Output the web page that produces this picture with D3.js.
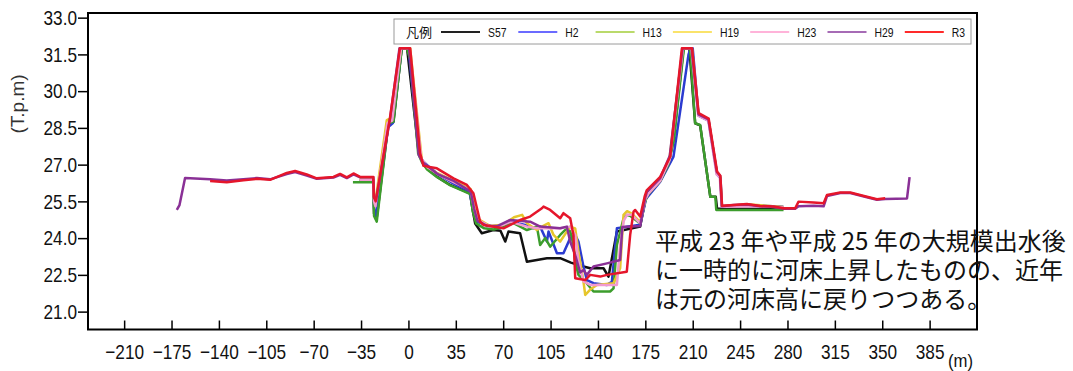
<!DOCTYPE html>
<html>
<head>
<meta charset="utf-8">
<script src="https://cdn.jsdelivr.net/npm/d3@7"></script>
<style>
  body { margin: 0; background: #fff; }
  svg { display: block; }
</style>
</head>
<body>
<svg id="chart" width="1073" height="371"></svg>
<script>
// survey years (legend order)
const seriesNames = ["S57", "H2", "H13", "H19", "H23", "H29", "R3"];
const lineColors = ["#111111", "#2b3bd0", "#3c9d2c", "#e6c62c", "#f29ad0", "#8a3096", "#e5162b"];
const legendColors = ["#222222", "#6b6bff", "#bada6b", "#fae36a", "#ffb3d9", "#a66bb5", "#ff2a2a"];

const xTicks = [-210, -175, -140, -105, -70, -35, 0, 35, 70, 105, 140, 175, 210, 245, 280, 315, 350, 385];
const yTicks = [21.0, 22.5, 24.0, 25.5, 27.0, 28.5, 30.0, 31.5, 33.0];

const noteLines = [
  "平成 23 年や平成 25 年の大規模出水後",
  "に一時的に河床上昇したものの、近年",
  "は元の河床高に戻りつつある。"
];

// cross sections: [distance (m), bed elevation (T.P.m)]
const s57 = [[-36,26.35],[-26,26.35],[-25.4,25.0],[-23.6,24.75],[-15,28.6],[-11,28.75],[-5,31.75],[-1,31.75],[7.4,27.6],[9.9,27.19],[13.6,26.85],[21,26.51],[30.8,26.17],[45.6,25.83],[46.8,25.36],[49.3,24.6],[54.2,24.2],[62.8,24.33],[68,24.3],[71.5,23.86],[73.9,24.27],[82.5,24.2],[87.5,23.04],[102.3,23.18],[112.1,23.18],[120,23.0],[129.3,22.84],[134.3,22.77],[144.1,22.77],[147.8,22.43],[154,24.27],[171.2,24.47],[174.9,25.56],[176.2,25.83],[186,26.37],[192.1,27.06],[195.8,28.01],[203.2,31.75],[207.5,31.75],[211.8,28.69],[215.5,28.6],[223,25.69],[227,25.69],[228,25.2],[277,25.2]];

const h2 = [[-36,26.3],[-26,26.3],[-25.3,25.2],[-23.8,24.9],[-15.5,28.5],[-11.5,28.7],[-5,31.75],[0,31.75],[7.8,27.5],[10.5,27.15],[14.5,26.95],[22,26.6],[31,26.3],[45,25.9],[48,25.1],[50.5,24.67],[62.8,24.47],[70.2,24.47],[76.4,24.74],[81.3,24.6],[86.2,24.54],[92.4,24.4],[97.3,24.47],[102.3,23.86],[103.5,24.27],[109.7,23.38],[114.5,23.38],[119.5,24.0],[123.2,24.13],[125.6,23.86],[129.3,22.84],[131.8,22.29],[136.7,22.16],[146.6,22.09],[150.3,22.22],[154,24.4],[171.2,24.55],[175.5,25.6],[176.8,25.69],[186,26.3],[195.8,27.33],[206.9,31.5],[208.5,31.75],[210,31.75],[214.3,29.0],[221.7,28.8],[228,26.6],[230.5,26.45],[231.6,25.3],[250,25.35],[277,25.28]];

const h13 = [[-41,26.28],[-26,26.28],[-25.4,24.9],[-23.4,24.67],[-14.8,28.69],[-11.1,28.76],[-4.9,31.75],[-1.2,31.75],[1.3,31.3],[7.2,27.45],[10,27.1],[13.8,26.8],[21,26.5],[31,26.15],[45.8,25.8],[47.5,25.1],[50,24.6],[56,24.4],[63,24.35],[70.2,24.47],[77.6,24.61],[87.5,24.33],[94.9,24.47],[97.3,23.72],[101,24.0],[104.7,23.65],[112.1,24.13],[117,24.4],[119.5,24.27],[121.9,23.72],[123.2,23.04],[125.6,22.5],[130.6,22.23],[136.7,21.82],[149,21.82],[151.5,21.95],[154,23.72],[158.9,24.81],[161.4,24.95],[164,24.9],[171.2,24.6],[174.9,25.5],[176.5,25.75],[186,26.35],[192,27.0],[196,28.0],[203.5,31.75],[208,31.75],[211.8,28.69],[215.5,28.62],[223,25.69],[226.7,25.69],[227.4,25.15],[277.1,25.15]];

const h19 = [[-36,26.4],[-26,26.4],[-25.4,25.6],[-24.6,25.42],[-16,28.82],[-13,28.9],[-5.5,31.75],[1.3,31.75],[3.7,30.46],[9.9,27.19],[14,26.9],[21.5,26.65],[33,26.35],[46,26.0],[48.5,25.3],[51,24.8],[60,24.5],[70,24.55],[78,24.85],[84,24.95],[87.5,24.61],[94.9,24.33],[98.6,24.47],[103.5,24.61],[107.2,24.13],[112.1,23.86],[119.5,24.47],[123.2,24.4],[125.6,23.45],[129.3,22.23],[130.6,21.68],[134.3,21.9],[139.2,22.09],[151.5,22.16],[156.4,22.77],[158.9,24.95],[161.5,25.1],[165,25.0],[171.2,24.65],[175,25.6],[177,25.8],[186,26.35],[193,27.3],[202.5,31.75],[209.4,31.75],[214.3,29.03],[221.7,28.82],[227.9,26.65],[230.3,26.51],[231.6,25.29],[250,25.38],[277,25.27]];

const h23 = [[-36,26.38],[-26,26.38],[-25.4,25.5],[-24.4,25.3],[-15.5,28.7],[-12,28.8],[-5.5,31.75],[0.8,31.75],[3.3,30.5],[9.5,27.25],[14,26.9],[21.5,26.62],[33,26.3],[46,25.95],[48.5,25.2],[51,24.75],[60,24.48],[68,24.5],[75.2,24.67],[87.5,24.47],[94.9,24.4],[102.3,24.4],[112.1,24.4],[119.5,24.47],[123.2,24.13],[125.6,23.04],[129.3,22.23],[134.3,22.09],[154,22.09],[156.4,23.72],[159,24.7],[161.4,24.95],[165,24.95],[171.2,24.6],[175,25.6],[177,25.8],[186,26.35],[193,27.2],[202.8,31.75],[209,31.75],[214,29.0],[221.5,28.8],[227.6,26.6],[230,26.48],[231.4,25.28],[260,25.3],[277,25.25]];

const h29 = [[-171.1,25.15],[-169.1,25.35],[-165,26.45],[-146.5,26.4],[-134.2,26.35],[-121.9,26.4],[-112,26.45],[-102.2,26.4],[-89.9,26.62],[-83.7,26.7],[-75.1,26.55],[-67.7,26.42],[-55.4,26.47],[-50.5,26.58],[-45.5,26.45],[-40.6,26.6],[-35.7,26.48],[-26,26.48],[-25.4,25.65],[-23.9,25.56],[-13.5,28.9],[-6.6,31.75],[0.5,31.75],[7.6,27.4],[10.5,27.1],[15,26.9],[22,26.6],[33,26.35],[46,25.9],[48.5,25.2],[51,24.7],[58,24.5],[66,24.5],[75.2,24.74],[89.9,24.67],[97.3,24.47],[112.1,24.4],[117,24.47],[119.5,23.86],[123.2,23.31],[126.8,22.6],[129.3,22.7],[131.8,22.5],[136.7,22.84],[146.6,22.97],[156.4,23.11],[158,24.45],[171.2,24.5],[174.9,25.65],[176.2,25.9],[186,26.45],[193,27.35],[202.5,31.75],[209.2,31.75],[214.2,29.05],[221.6,28.85],[227.8,26.7],[230.2,26.55],[231.5,25.3],[240.2,25.35],[250,25.37],[259.9,25.3],[269.7,25.28],[277.1,25.2],[285.7,25.2],[288.2,25.3],[299.3,25.32],[306.7,25.3],[309.2,25.72],[319,25.84],[326.4,25.84],[338.7,25.67],[346.1,25.57],[352.2,25.6],[368.3,25.62],[370.2,26.49]];

const r3 = [[-146.5,26.33],[-134.2,26.28],[-121.9,26.36],[-112,26.42],[-102.2,26.38],[-89.9,26.66],[-83.7,26.74],[-75.1,26.6],[-67.7,26.44],[-55.4,26.5],[-50.5,26.62],[-45.5,26.48],[-40.6,26.64],[-35.7,26.5],[-25.9,26.5],[-25.6,25.69],[-24.2,25.5],[-13.8,28.85],[-6.3,31.75],[1.3,31.75],[8.6,27.47],[11.1,26.95],[21,26.85],[33.3,26.44],[43.2,26.17],[48,25.83],[53,24.67],[55.4,24.54],[70.2,24.4],[82.5,24.74],[89.9,24.88],[98.6,25.22],[99.8,25.29],[104.7,25.15],[112.1,24.81],[114.5,25.02],[119.5,24.81],[121.9,24.13],[123.2,22.36],[130.6,22.29],[134.3,22.5],[141.7,22.43],[146.6,22.5],[161.3,22.63],[163.8,24.13],[166.3,25.08],[167.5,25.15],[171.2,24.88],[174.5,25.7],[176,25.95],[186,26.5],[193.4,27.33],[202,31.75],[209.5,31.75],[214.4,29.1],[221.8,28.88],[228,26.72],[230.4,26.55],[231.7,25.32],[240.2,25.35],[250,25.39],[259.9,25.31],[269.7,25.29],[277.1,25.22],[285.7,25.22],[288.2,25.49],[299.3,25.45],[306.7,25.42],[309.2,25.76],[319,25.86],[326.4,25.86],[338.7,25.69],[346.1,25.59],[352.2,25.63]];

const seriesData = [s57, h2, h13, h19, h23, h29, r3];

// ---------------------------------------------------------------
const plot = {left: 88, right: 977, top: 13, bottom: 329.5};
const numFont = "'Liberation Sans', Arial, sans-serif";
const jpFont = "'Noto Sans CJK JP', 'Noto Sans', sans-serif";

const svg = d3.select("#chart");

const x = d3.scaleLinear().domain([-236.7, 420]).range([plot.left, plot.right]);
const y = d3.scaleLinear().domain([20.27, 33.19]).range([plot.bottom, plot.top]);

// squeeze text horizontally around its own x (labels in the source are narrow)
function narrow(sel, k) {
    sel.attr("transform", function () {
        const x0 = +this.getAttribute("x") || 0;
        return `translate(${x0},0) scale(${k},1) translate(${-x0},0)`;
    });
}

svg.append("defs").append("clipPath").attr("id", "plot-clip")
    .append("rect")
    .attr("x", plot.left).attr("y", plot.top)
    .attr("width", plot.right - plot.left).attr("height", plot.bottom - plot.top);

// lines
const line = d3.line().x(d => x(d[0])).y(d => y(d[1]));
svg.append("g").attr("clip-path", "url(#plot-clip)")
    .selectAll("path")
    .data(seriesData)
    .enter().append("path")
    .attr("d", line)
    .attr("fill", "none")
    .attr("stroke", (d, i) => lineColors[i])
    .attr("stroke-width", 2.5)
    .attr("stroke-linejoin", "round");

// y axis
const yAxis = d3.axisLeft(y).tickValues(yTicks).tickFormat(d3.format(".1f"))
    .tickSize(10).tickPadding(1).tickSizeOuter(0);
const gy = svg.append("g").attr("transform", `translate(${plot.left},0)`).call(yAxis);
gy.select(".domain").remove();
gy.selectAll(".tick line").attr("stroke", "#000").attr("stroke-width", 1.5);
gy.selectAll(".tick text").attr("font-family", numFont).attr("font-size", 21).attr("fill", "#111").call(narrow, 0.82);

// x axis, ticks point inward
const xAxis = d3.axisBottom(x).tickValues(xTicks).tickFormat(d3.format("d"))
    .tickSizeInner(-9).tickSizeOuter(0).tickPadding(15);
const gx = svg.append("g").attr("transform", `translate(0,${plot.bottom})`).call(xAxis);
gx.select(".domain").remove();
gx.selectAll(".tick line").attr("stroke", "#000").attr("stroke-width", 1.5);
gx.selectAll(".tick text").attr("font-family", numFont).attr("font-size", 21).attr("fill", "#111").call(narrow, 0.82);

// frame
svg.append("rect")
    .attr("x", plot.left).attr("y", plot.top)
    .attr("width", plot.right - plot.left).attr("height", plot.bottom - plot.top)
    .attr("fill", "none").attr("stroke", "#000").attr("stroke-width", 2);

// axis titles
svg.append("text")
    .attr("transform", "translate(24,104) rotate(-90)")
    .attr("text-anchor", "middle")
    .attr("font-family", numFont).attr("font-size", 19).attr("fill", "#333")
    .text("(T.p.m)");

svg.append("text")
    .attr("x", 948).attr("y", 367)
    .attr("font-family", numFont).attr("font-size", 19).attr("fill", "#111")
    .text("(m)")
    .call(narrow, 0.88);

// legend
const legend = svg.append("g");
legend.append("rect")
    .attr("x", 394).attr("y", 19).attr("width", 577).attr("height", 25)
    .attr("fill", "#fff").attr("stroke", "#9a9a9a").attr("stroke-width", 1);
legend.append("text")
    .attr("x", 406).attr("y", 37)
    .attr("font-family", jpFont).attr("font-size", 13).attr("fill", "#111")
    .text("凡例");
const items = legend.selectAll("g.item")
    .data(seriesNames)
    .enter().append("g").attr("class", "item")
    .attr("transform", (d, i) => `translate(${441 + i * 77.3},0)`);
items.append("line")
    .attr("x1", 0).attr("x2", 39).attr("y1", 32).attr("y2", 32)
    .attr("stroke", (d, i) => legendColors[i]).attr("stroke-width", 2.2);
items.append("text")
    .attr("x", 47).attr("y", 37)
    .attr("font-family", numFont).attr("font-size", 13).attr("fill", "#111")
    .text(d => d)
    .call(narrow, 0.8);

// annotation, one text block with a tspan per line
const note = svg.append("text")
    .attr("x", 655).attr("y", 250)
    .attr("font-family", jpFont).attr("font-size", 24).attr("fill", "#111");
note.selectAll("tspan")
    .data(noteLines)
    .enter().append("tspan")
    .attr("x", 655)
    .attr("dy", (d, i) => i === 0 ? 0 : 29)
    .text(d => d);
</script>
</body>
</html>
